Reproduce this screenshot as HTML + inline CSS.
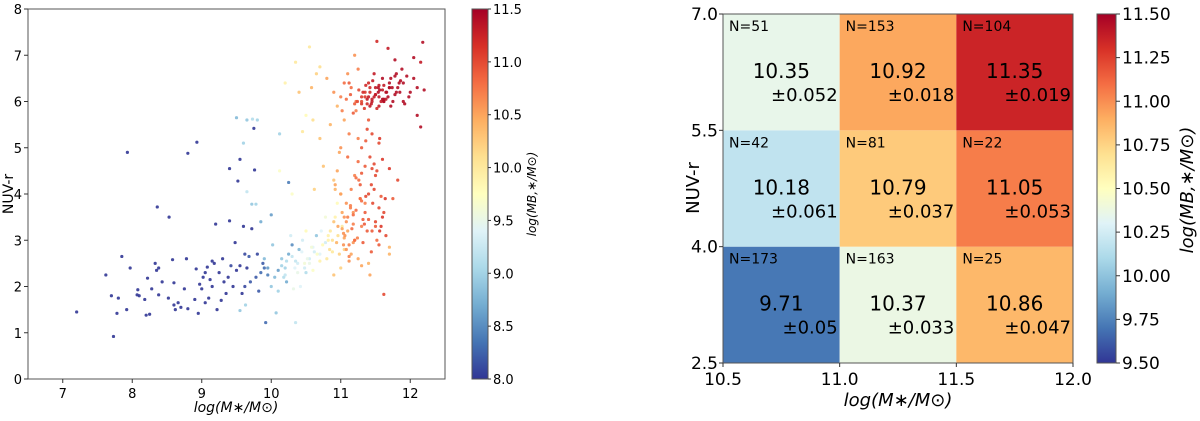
<!DOCTYPE html>
<html><head><meta charset="utf-8"><style>
body{margin:0;background:#fff;font-family:"Liberation Sans","DejaVu Sans",sans-serif}
svg text{font-family:"DejaVu Sans","Liberation Sans",sans-serif;fill:#000}
</style></head><body>
<svg id="chart" width="1200" height="416" viewBox="0 0 1200 416" xmlns="http://www.w3.org/2000/svg">
<defs>
<linearGradient id="cmap" x1="0" y1="1" x2="0" y2="0">
<stop offset="0" stop-color="#313695"/><stop offset="0.1" stop-color="#4575b4"/><stop offset="0.2" stop-color="#74add1"/><stop offset="0.3" stop-color="#abd9e9"/><stop offset="0.4" stop-color="#e0f3f8"/><stop offset="0.5" stop-color="#ffffbf"/><stop offset="0.6" stop-color="#fee090"/><stop offset="0.7" stop-color="#fdae61"/><stop offset="0.8" stop-color="#f46d43"/><stop offset="0.9" stop-color="#d73027"/><stop offset="1" stop-color="#a50026"/>
</linearGradient>
</defs>
<g id="left"></g><g id="right"></g>
</svg>
<script>
// ---------- Left scatter data ----------
const scatterX = [7.2,7.62,7.7,7.73,7.78,7.8,7.85,7.92,7.93,7.97,8.07,8.08,8.1,8.18,8.2,8.22,8.25,8.28,8.33,8.35,8.36,8.38,8.38,8.43,8.53,8.52,8.58,8.6,8.6,8.62,8.66,8.7,8.75,8.78,8.8,8.8,8.9,8.93,8.92,8.95,8.97,9.0,9.02,9.05,9.08,9.1,9.12,9.15,9.18,9.2,9.22,9.25,9.3,9.32,9.35,9.38,9.4,9.4,9.45,9.48,9.5,9.52,9.55,9.55,9.58,9.6,9.62,9.65,9.7,9.72,9.75,9.76,9.8,9.82,9.85,9.88,9.92,9.95,9.05,9.15,9.28,9.42,9.62,9.68,9.78,9.9,
9.5,9.6,9.65,9.73,9.8,9.65,9.72,9.78,9.85,10.0,9.55,9.63,10.07,10.35,10.05,10.1,10.15,10.2,10.25,10.3,10.35,10.4,10.45,10.5,10.55,10.6,10.65,10.7,10.78,10.12,10.25,9.95,10.0,10.1,10.22,10.28,10.38,10.42,10.55,10.62,10.72,9.9,10.02,10.18,10.32,10.48,
10.35,10.55,10.65,10.7,10.5,10.45,10.6,10.7,10.75,10.78,10.85,10.9,11.0,10.95,10.8,11.05,10.9,10.3,10.5,10.88,10.92,10.98,11.02,10.82,10.62,10.58,10.4,10.2,10.12,
10.8,10.9,10.95,11.0,11.05,11.0,10.95,11.0,11.05,11.1,11.2,11.15,11.25,11.3,11.1,11.2,11.25,11.15,11.2,11.25,11.7,11.7,11.42,11.4,10.85,10.92,11.08,11.12,11.18,11.05,11.12,11.22,11.28,11.08,11.15,11.02,11.18,11.3,10.98,11.1,11.22,11.05,11.12,11.35,11.25,11.18,
11.3,11.35,11.4,11.45,11.35,11.5,11.4,11.55,11.45,11.6,11.55,11.62,11.82,11.75,11.7,11.55,11.6,11.3,11.35,11.28,11.42,11.5,11.38,11.48,11.58,11.32,11.45,11.52,11.4,11.65,11.3,11.22,11.36,11.44,
11.4,11.45,11.5,11.52,11.55,11.6,11.65,11.68,11.7,11.75,11.8,11.85,11.9,11.92,12.0,12.05,12.1,12.15,12.18,12.2,12.1,12.15,11.48,11.58,11.62,11.78,11.88,12.05,11.42,11.55,11.35,11.38,11.5,11.6,11.72,11.82,11.95,11.45,11.52,11.65,11.7,11.4,11.62,11.98,11.3,11.42,11.55,
10.15,10.22,10.3,10.38,10.44,10.52,10.58,10.66,10.74,10.82,10.88,10.96,10.2,10.34,10.48,10.6,10.7,10.84,
10.9,10.96,11.04,11.1,11.16,11.24,11.32,11.38,10.94,11.02,11.08,11.14,11.2,11.28,11.34,11.0,11.06,11.12,11.18,11.26,10.92,11.04,11.14,11.22,11.3,11.36,11.46,11.5,11.56,11.62,11.44,11.52,11.58,11.64,11.48,11.56,
11.02,11.08,11.14,11.2,11.26,11.12,11.18,11.24,11.3,11.34,11.32,11.38,11.44,11.5,11.56,11.62,11.68,11.74,11.8,11.86,11.36,11.42,11.48,11.54,11.6,11.66,11.72,11.78,11.84,11.9,11.46,11.54,11.62,11.7,11.78];
const scatterY = [1.45,2.25,1.8,0.92,1.42,1.75,2.65,1.5,4.9,2.4,1.82,1.93,1.8,1.72,1.38,2.18,1.4,1.95,2.5,2.35,3.72,2.4,1.82,2.1,3.5,1.75,2.58,2.08,1.6,1.5,1.65,1.55,1.95,2.6,4.88,1.52,1.72,5.12,2.38,1.42,2.05,1.95,2.2,1.65,2.42,1.75,2.15,2.0,2.5,3.35,1.5,2.3,2.6,2.1,1.85,2.2,3.42,4.55,2.0,2.95,2.35,4.28,2.45,4.75,1.85,3.3,2.7,2.4,2.1,3.25,5.42,4.52,2.7,1.9,2.3,2.5,1.22,2.25,2.3,2.55,1.7,2.45,2.0,2.65,2.2,2.4,
5.65,5.1,5.6,5.62,5.6,4.05,3.78,3.78,3.4,3.55,1.48,1.6,1.43,1.22,2.2,2.35,2.6,2.4,2.7,2.9,2.55,2.8,3.0,2.3,2.6,2.85,3.1,2.7,2.95,5.3,4.25,2.4,2.0,1.9,2.1,3.1,2.3,2.0,2.5,2.75,3.2,2.6,2.9,2.2,1.95,2.4,
6.85,7.18,6.6,6.75,5.7,5.35,5.6,5.2,4.6,3.5,3.2,2.25,2.4,3.8,2.6,2.8,4.3,4.0,3.2,3.0,3.5,2.7,3.3,3.1,4.1,6.3,6.2,6.4,4.5,
6.5,6.2,5.9,6.1,5.6,5.0,4.5,4.0,3.5,3.2,3.0,2.7,2.6,3.3,4.8,4.4,5.2,6.3,7.0,6.7,2.85,2.7,2.25,2.5,5.5,4.2,3.8,2.9,3.6,6.4,5.3,5.8,3.9,3.4,4.1,3.25,2.95,2.45,4.9,6.6,6.0,3.05,2.55,3.8,4.7,3.35,
6.0,6.2,5.6,5.3,4.6,4.4,4.0,3.7,3.2,3.5,2.9,1.83,4.3,3.9,4.55,5.1,4.75,5.0,3.6,4.2,4.8,3.3,5.4,4.1,3.95,2.95,4.55,3.0,3.45,3.1,3.85,4.35,5.15,2.75,
6.1,6.0,6.3,7.3,6.1,6.5,6.2,7.15,6.4,6.0,6.6,6.2,6.4,5.95,6.2,6.5,6.3,6.85,7.28,6.25,5.7,5.45,6.6,6.0,6.35,6.9,6.7,6.95,6.3,5.9,6.1,5.95,6.15,6.25,5.9,6.3,6.55,6.05,5.85,6.05,6.3,6.4,6.0,6.1,5.95,6.2,6.35,
2.45,2.55,2.65,2.5,2.75,2.6,2.85,2.7,2.9,3.0,2.75,3.1,2.25,2.4,2.5,2.35,2.55,2.8,
3.4,3.3,3.15,3.5,3.25,3.05,3.45,3.2,2.95,3.6,2.8,3.7,3.0,3.9,3.35,4.0,3.1,2.65,3.55,4.3,4.1,2.9,3.75,3.65,4.45,3.95,3.8,3.4,3.2,3.6,4.2,4.5,3.3,3.9,4.65,5.2,
5.8,6.05,6.15,5.95,6.25,6.4,5.75,6.0,6.1,5.85,6.2,6.05,5.95,6.15,6.25,6.0,6.1,6.3,6.2,6.45,6.35,5.9,6.1,6.3,6.05,6.2,6.5,6.15,6.4,6.0,6.45,6.2,6.05,6.3,6.55];
const scatterC = [8,8,8,8,8,8,8,8,8,8,8,8,8,8,8,8,8,8,8,8,8,8,8,8,8,8,8,8,8,8,8,8,8,8,8,8,8,8,8,8,8,8,8,8,8,8,8,8,8,8,8,8,8,8,8,8,8,8,8,8,8,8,8,8,8,8,8.1,8,8.2,8,8,8,8.1,8.2,8.3,8.2,8.3,8.4,8,8,8,8.1,8.1,8.2,8.2,8.3,
8.8,9.0,8.9,9.1,9.0,9.2,8.9,9.0,8.7,8.6,8.9,9.0,8.9,9.2,8.8,8.6,8.9,9.0,8.7,8.5,9.2,8.8,9.3,9.1,9.3,9.4,8.9,9.4,9.3,9.0,8.4,8.6,8.9,9.0,8.7,9.3,9.5,9.4,9.5,9.3,9.4,8.8,8.9,9.1,9.5,9.3,
10.0,10.0,10.2,10.1,9.8,10.0,10.1,10.3,10.3,9.6,10.0,10.3,10.2,9.8,10.0,10.2,10.3,9.7,9.8,10.1,9.9,10.2,10.0,9.9,10.2,10.4,10.3,9.9,9.7,
10.5,10.6,10.4,10.7,10.5,10.6,10.5,10.6,10.6,10.5,10.6,10.5,10.5,10.7,10.8,10.7,10.7,10.8,10.6,10.7,10.4,10.4,10.5,10.4,10.4,10.5,10.6,10.7,10.6,10.8,10.7,10.7,10.6,10.6,10.7,10.5,10.6,10.5,10.5,10.6,10.8,10.5,10.6,10.7,10.8,10.7,
11.0,11.1,10.9,11.0,10.9,11.0,11.0,11.0,10.9,11.1,10.9,11.0,11.0,10.9,11.1,11.0,11.1,10.9,10.9,10.9,11.0,10.9,11.0,11.0,10.9,10.9,11.0,10.8,10.9,11.0,10.8,10.8,10.9,10.9,
11.3,11.3,11.3,11.2,11.3,11.4,11.3,11.3,11.4,11.4,11.4,11.4,11.4,11.4,11.4,11.4,11.4,11.3,11.4,11.4,11.4,11.4,11.3,11.3,11.3,11.4,11.4,11.4,11.2,11.3,11.1,11.2,11.3,11.3,11.4,11.4,11.4,11.3,11.2,11.3,11.4,11.2,11.3,11.4,11.1,11.2,11.3,
9.0,9.1,9.2,9.3,9.4,9.5,9.6,9.7,9.8,9.9,10.0,10.1,9.2,9.4,9.6,9.7,9.9,10.1,
10.3,10.5,10.6,10.7,10.8,10.7,10.9,10.9,10.4,10.5,10.6,10.7,10.8,10.8,10.9,10.5,10.6,10.7,10.8,10.8,10.4,10.6,10.7,10.8,10.9,11.0,11.0,11.0,11.1,11.0,11.0,11.0,11.1,11.1,11.0,11.1,
10.7,10.8,10.9,10.9,11.0,10.9,10.9,11.0,11.1,11.1,11.2,11.3,11.3,11.3,11.4,11.4,11.4,11.4,11.4,11.4,11.2,11.3,11.3,11.4,11.4,11.4,11.4,11.4,11.4,11.4,11.3,11.4,11.4,11.4,11.4];
const leftXTicks = [7,8,9,10,11,12];
const leftYTicks = [0,1,2,3,4,5,6,7,8];
const leftCbTicks = ["8.0","8.5","9.0","9.5","10.0","10.5","11.0","11.5"];

// ---------- Right heatmap data ----------
const binX = [10.5,11.0,11.5,12.0];
const binY = [2.5,4.0,5.5,7.0];
const cellMeans = [[9.71,10.37,10.86],[10.18,10.79,11.05],[10.35,10.92,11.35]]; // rows bottom->top
const cellErrs = [["±0.05","±0.033","±0.047"],["±0.061","±0.037","±0.053"],["±0.052","±0.018","±0.019"]];
const cellCounts = [[173,163,25],[42,81,22],[51,153,104]];
const rightXTicks = ["10.5","11.0","11.5","12.0"];
const rightYTicks = ["2.5","4.0","5.5","7.0"];
const rightCbTicks = ["9.50","9.75","10.00","10.25","10.50","10.75","11.00","11.25","11.50"];

const NS="http://www.w3.org/2000/svg";
function mk(tag,attrs,parent,txt){const e=document.createElementNS(NS,tag);for(const k in attrs)e.setAttribute(k,attrs[k]);if(txt!==undefined)e.textContent=txt;parent.appendChild(e);return e;}
const stops=[[49,54,149],[69,117,180],[116,173,209],[171,217,233],[224,243,248],[255,255,191],[254,224,144],[253,174,97],[244,109,67],[215,48,39],[165,0,38]];
function cmap(t){t=Math.max(0,Math.min(1,t));const f=t*10,i=Math.min(9,Math.floor(f)),r=f-i;const a=stops[i],b=stops[i+1];return `rgb(${a.map((v,k)=>Math.round(v+(b[k]-v)*r)).join(',')})`;}

// ---- left ----
const L=document.getElementById('left');
const lx0=28,lx1=445,ly0=9,ly1=379;
const lxs=v=>lx0+(v-6.5)/(12.5-6.5)*(lx1-lx0);
const lys=v=>ly1-(v-0)/8*(ly1-ly0);
const pts=mk('g',{},L);

for(let i=0;i<scatterX.length;i++){
 const c=mk('circle',{cx:lxs(scatterX[i]),cy:lys(scatterY[i]),r:1.6,fill:cmap((scatterC[i]-8)/3.5),'fill-opacity':0.9},pts);
 
 
}
const lframe=mk('rect',{x:lx0,y:ly0,width:lx1-lx0,height:ly1-ly0,fill:'none',stroke:'#555','stroke-width':1},L);

leftXTicks.forEach(v=>{const x=lxs(v);mk('line',{x1:x,x2:x,y1:ly1,y2:ly1+4,stroke:'#333'},L);
 const t=mk('text',{x:x,y:ly1+19,'text-anchor':'middle','font-size':13},L,String(v));});
leftYTicks.forEach(v=>{const y=lys(v);mk('line',{x1:lx0-4,x2:lx0,y1:y,y2:y,stroke:'#333'},L);
 const t=mk('text',{x:lx0-6,y:y+5,'text-anchor':'end','font-size':13},L,String(v));});
let t=mk('text',{x:236,y:412,'text-anchor':'middle','font-size':14,'font-style':'italic'},L,'log(M\u2217/M\u2299)');
t=mk('text',{x:0,y:0,'text-anchor':'middle','font-size':14,transform:'translate(13,194) rotate(-90)'},L,'NUV-r');
const cb1=mk('rect',{x:472,y:ly0,width:16,height:ly1-ly0,fill:'url(#cmap)',stroke:'#555'},L);
leftCbTicks.forEach(s=>{const y=ly1-(parseFloat(s)-8)/3.5*(ly1-ly0);mk('line',{x1:488,x2:491,y1:y,y2:y,stroke:'#333'},L);
 const tt=mk('text',{x:493,y:y+5,'font-size':13},L,s);});
t=mk('text',{x:0,y:0,'text-anchor':'middle','font-size':12,'font-style':'italic',transform:'translate(536,194) rotate(-90)'},L,'log(MB,\u2217/M\u2299)');

// ---- right ----
const R=document.getElementById('right');
const rx0=723,rx1=1073,ry0=14,ry1=363;
const rxs=v=>rx0+(v-10.5)/1.5*(rx1-rx0);
const rys=v=>ry1-(v-2.5)/4.5*(ry1-ry0);
for(let r=0;r<3;r++)for(let c=0;c<3;c++){
 const x=rxs(binX[c]),x2=rxs(binX[c+1]),y=rys(binY[r+1]),y2=rys(binY[r]);
 const cell=mk('rect',{x:x,y:y,width:x2-x,height:y2-y,fill:cmap((cellMeans[r][c]-9.5)/2)},R);
 
 let a=mk('text',{x:x+6,y:y+17,'font-size':14},R,'N='+cellCounts[r][c]);
 a=mk('text',{x:(x+x2)/2,y:y+64,'text-anchor':'middle','font-size':20},R,cellMeans[r][c].toFixed(2));
 a=mk('text',{x:x2-2,y:y+87,'text-anchor':'end','font-size':18},R,cellErrs[r][c]);
}
const rf=mk('rect',{x:rx0,y:ry0,width:rx1-rx0,height:ry1-ry0,fill:'none',stroke:'#555'},R);
rightXTicks.forEach(s=>{const x=rxs(parseFloat(s));mk('line',{x1:x,x2:x,y1:ry1,y2:ry1+4,stroke:'#333'},R);
 const tt=mk('text',{x:x,y:ry1+22,'text-anchor':'middle','font-size':17},R,s);});
rightYTicks.forEach(s=>{const y=rys(parseFloat(s));mk('line',{x1:rx0-4,x2:rx0,y1:y,y2:y,stroke:'#333'},R);
 const tt=mk('text',{x:rx0-5,y:y+6,'text-anchor':'end','font-size':17},R,s);});
t=mk('text',{x:898,y:406,'text-anchor':'middle','font-size':18,'font-style':'italic'},R,'log(M\u2217/M\u2299)');
t=mk('text',{x:0,y:0,'text-anchor':'middle','font-size':18,transform:'translate(699,188) rotate(-90)'},R,'NUV-r');
const cb2=mk('rect',{x:1097,y:ry0,width:19,height:ry1-ry0,fill:'url(#cmap)',stroke:'#555'},R);
rightCbTicks.forEach(s=>{const y=ry1-(parseFloat(s)-9.5)/2*(ry1-ry0);mk('line',{x1:1116,x2:1120,y1:y,y2:y,stroke:'#333'},R);
 const tt=mk('text',{x:1122,y:y+6,'font-size':17},R,s);});
t=mk('text',{x:0,y:0,'text-anchor':'middle','font-size':18,'font-style':'italic',transform:'translate(1193,190) rotate(-90)'},R,'log(MB,\u2217/M\u2299)');
</script>
</body></html>
